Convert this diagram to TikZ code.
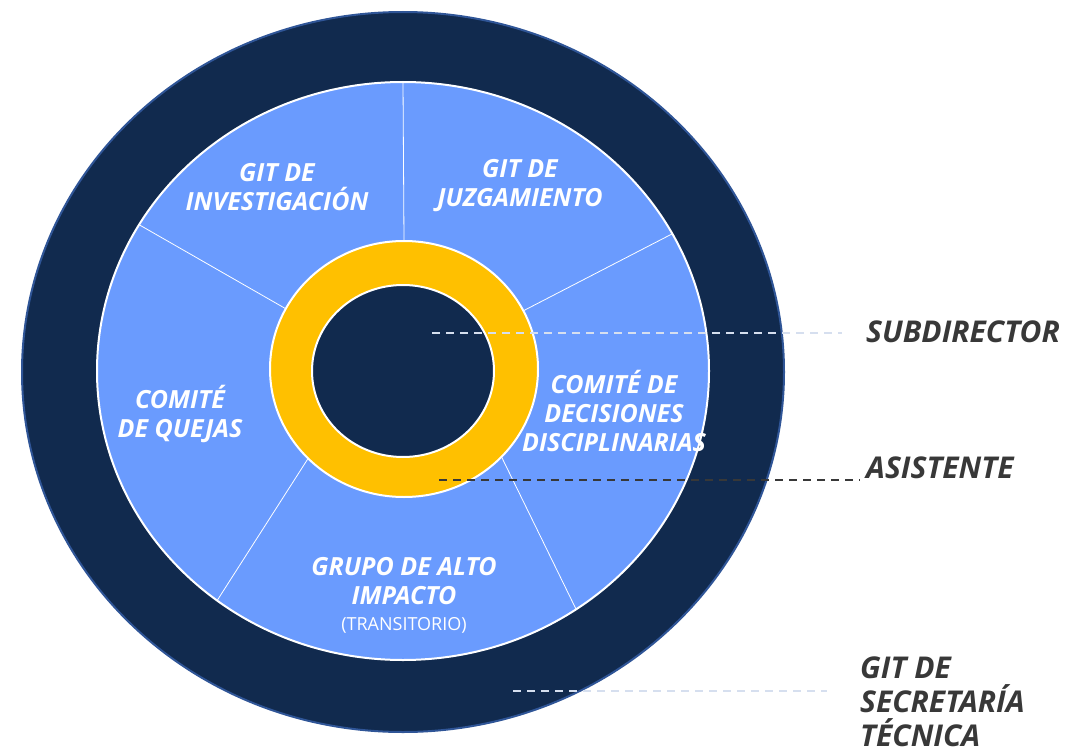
\documentclass[tikz,border=0pt]{standalone}
\usepackage{fontspec}
\setmainfont{Open Sans}
\usetikzlibrary{shapes.geometric,calc}
\definecolor{navy}{HTML}{112A4E}
\definecolor{rimblue}{HTML}{2F5597}
\definecolor{sky}{HTML}{6A9BFE}
\definecolor{gold}{HTML}{FFC000}
\definecolor{ink}{HTML}{383838}
\definecolor{mist}{HTML}{D6DFEF}

\begin{document}
\begin{tikzpicture}[x=1pt,y=-1pt,
  disc/.style={ellipse,inner sep=0pt,outer sep=0pt},
  unit/.style={white,align=center,inner sep=0pt,font=\bfseries\itshape\fontsize{25}{29}\selectfont},
  role/.style={ink,align=left,inner sep=0pt,font=\bfseries\itshape\fontsize{30}{34}\selectfont},
  lead/.style={dash pattern=on 8pt off 6pt,line width=1.5pt}]
 \useasboundingbox (0,0) rectangle (1071,752);
 \node[disc,fill=navy,draw=rimblue,line width=2pt,minimum width=762pt,minimum height=720pt] (rim)   at (403,372) {};
 \node[disc,fill=sky,draw=white,line width=2pt,minimum width=612pt,minimum height=578pt]   (wheel) at (403,371) {};
 \node[disc,fill=gold,draw=white,line width=2pt,minimum width=268pt,minimum height=256pt] (ring)  at (404,369) {};
 \node[disc,fill=navy,draw=white,line width=2pt,minimum width=182pt,minimum height=172pt] (core)  at (403,371) {};

 \draw[white,line width=0.8pt] (ring.90)  -- (wheel.90)
                               (ring.26)  -- (wheel.27)
                               (ring.153) -- (wheel.151)
                               (ring.223) -- (wheel.231)
                               (ring.-42) -- (wheel.-54);

 \node[unit]                  (invest)     at (277,187) {GIT DE\\INVESTIGACIÓN};
 \node[unit]                  (juzga)      at (520,186) {GIT DE\\JUZGAMIENTO};
 \node[unit]                  (quejas)     at (180,414) {COMITÉ\\DE QUEJAS};
 \node[unit]                  (decision)   at (614,411) {COMITÉ DE\\DECISIONES\\DISCIPLINARIAS};
 \node[unit]                  (grupo)      at (404,595) {GRUPO DE ALTO\\IMPACTO\\[-3pt]{\normalfont\fontsize{18}{22}\selectfont (TRANSITORIO)}};

 \node[role,anchor=west]       (subdirector) at (866,332) {SUBDIRECTOR};
 \node[role,anchor=base west]  (asistente)   at (866,478) {ASISTENTE};
 \node[role,anchor=north west] (secretaria)  at (860,657) {GIT DE\\SECRETARÍA\\TÉCNICA};

 \coordinate (subdot)  at (432,333);
 \coordinate (asisdot) at (439,480);
 \coordinate (gitdot)  at (513,691);

 \draw[lead,mist]  (subdot)  -- ($(subdot -| subdirector.west)+(-24,0)$);
 \draw[lead,ink]   (asisdot) -- ($(asisdot -| asistente.west)+(-6,0)$);
 \draw[lead,mist]  (gitdot)  -- ($(gitdot -| secretaria.west)+(-33,0)$);
\end{tikzpicture}
\end{document}
